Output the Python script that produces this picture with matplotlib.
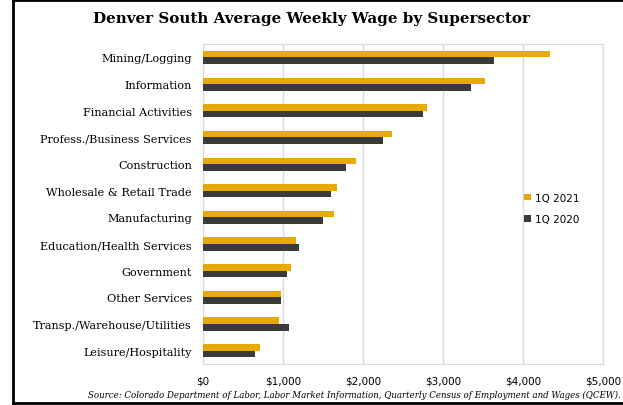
import numpy as np
import matplotlib.pyplot as plt
from matplotlib.lines import Line2D
from matplotlib.ticker import FuncFormatter

# sectors, top to bottom as in the chart
sectors = ['Mining/Logging', 'Information', 'Financial Activities',
           'Profess./Business Services', 'Construction', 'Wholesale & Retail Trade',
           'Manufacturing', 'Education/Health Services', 'Government',
           'Other Services', 'Transp./Warehouse/Utilities', 'Leisure/Hospitality']
wage_2021 = [4337, 3521, 2804, 2366, 1917, 1679, 1641, 1158, 1104, 979, 946, 708]
wage_2020 = [3633, 3346, 2754, 2250, 1792, 1600, 1504, 1200, 1046, 980, 1079, 646]

gold = '#E8A900'
dark = '#3A3A3A'
grid = '#D9D9D9'

plt.rcParams['font.family'] = ['DejaVu Serif']

fig = plt.figure(figsize=(6.23, 4.06), dpi=100)
ax = fig.add_axes([0.326, 0.101, 0.642, 0.788])

y = np.arange(len(sectors))
h = 0.245
ax.barh(y - h / 2, wage_2021, height=h, color=gold, label='1Q 2021', zorder=3)
ax.barh(y + h / 2, wage_2020, height=h, color=dark, label='1Q 2020', zorder=3)

ax.set_ylim(len(sectors) - 0.5, -0.5)
ax.set_yticks(y)
ax.set_yticklabels(sectors, fontsize=8.1)
ax.set_xlim(0, 5000)
ax.set_xticks(range(0, 5001, 1000))
ax.xaxis.set_major_formatter(FuncFormatter(lambda v, p: '${:,.0f}'.format(v)))
ax.tick_params(axis='x', labelsize=7.5, length=0, pad=8)
ax.tick_params(axis='y', length=0, pad=8)
for lbl in ax.get_xticklabels():
    lbl.set_family('DejaVu Sans')
ax.grid(axis='x', color=grid, linewidth=1, zorder=0)
for s in ax.spines.values():
    s.set_color(grid)

ax.legend(loc='upper left', bbox_to_anchor=(0.78, 0.565), frameon=False,
          prop={'family': 'DejaVu Sans', 'size': 7.5},
          handlelength=0.6, handleheight=0.6, handletextpad=0.4,
          labelspacing=1.1)

fig.text(0.5, 0.952, 'Denver South Average Weekly Wage by Supersector',
         ha='center', va='center', fontsize=10.9, fontweight='bold')
fig.text(0.997, 0.025, 'Source: Colorado Department of Labor, Labor Market Information, '
         'Quarterly Census of Employment and Wages (QCEW).',
         ha='right', va='center', fontsize=6.2, style='italic')

# black frame on left, top and bottom
fig.add_artist(Line2D([0.021, 0.021], [0.006, 0.997], color='black', lw=2))
fig.add_artist(Line2D([0.021, 1.0], [0.997, 0.997], color='black', lw=2))
fig.add_artist(Line2D([0.021, 1.0], [0.006, 0.006], color='black', lw=2))

fig.savefig('out.png', dpi=100)
